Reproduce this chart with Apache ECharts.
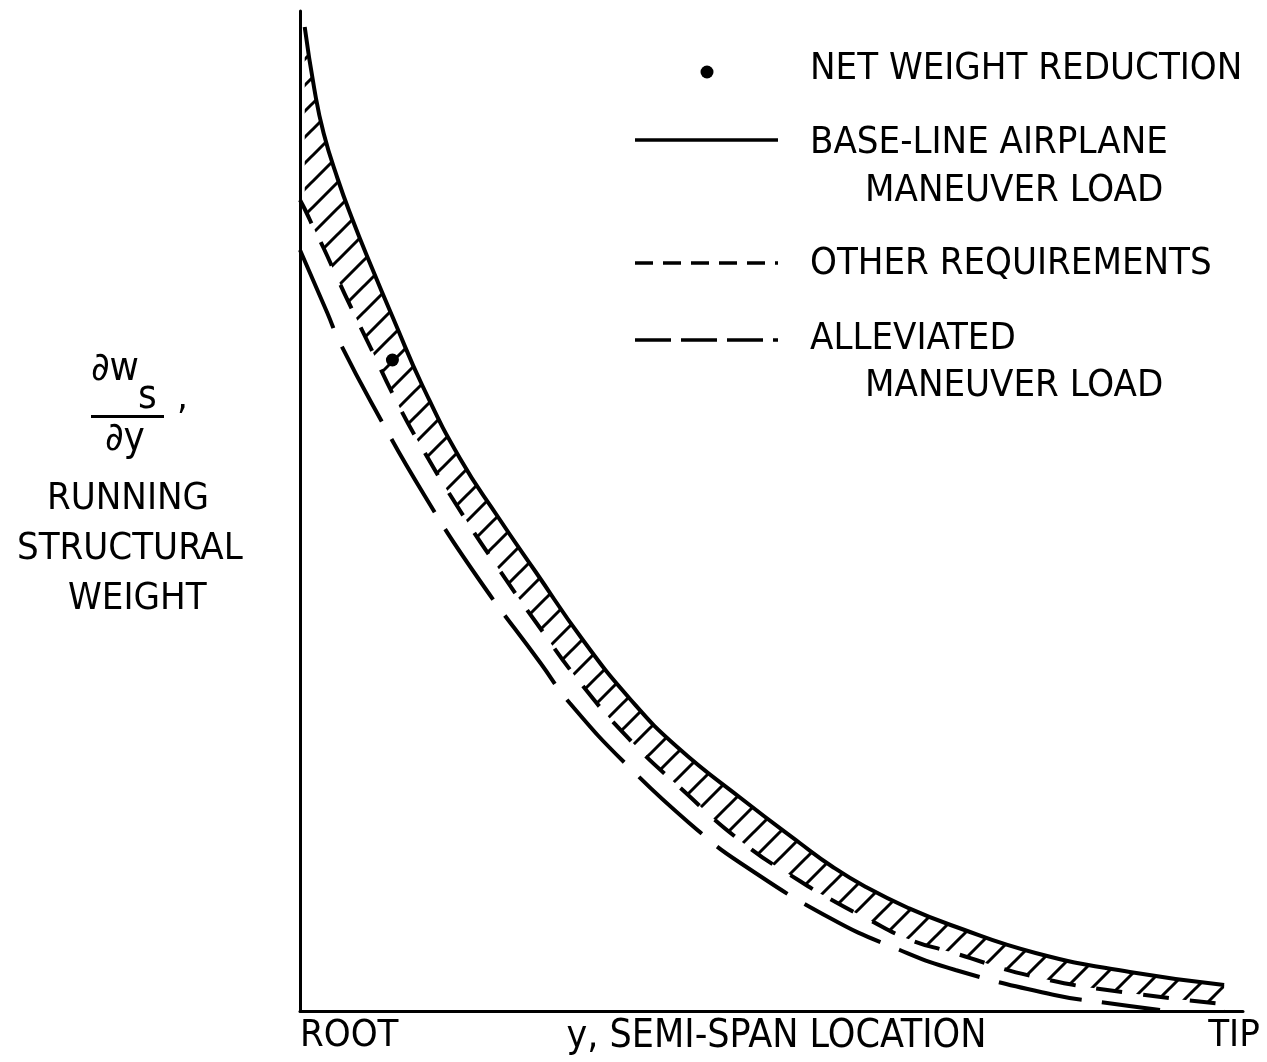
<!DOCTYPE html>
<html>
<head>
<meta charset="utf-8">
<script src="https://cdn.jsdelivr.net/npm/echarts@6/dist/echarts.min.js"></script>
<style>
  html, body { margin: 0; padding: 0; background: #fff; }
  #chart { width: 1267px; height: 1062px; }
</style>
</head>
<body>
<div id="chart"></div>
<script>
// y, semi-span location: 0 = root, 100 = tip
// base-line airplane maneuver load
const baseX = [0.5, 1.5, 2.5, 4, 5.5, 7.5, 10, 13, 17, 21, 25, 30, 35, 40, 47, 53, 56.5, 60, 64.5, 69, 78, 88, 98]
const baseLine = [98.4, 92.3, 87.8, 83.2, 79.3, 74.6, 69.0, 62.5, 55.2, 49.4, 43.9, 37.1, 31.2, 26.4, 21.1, 16.8, 14.4, 12.4, 10.3, 8.6, 5.8, 3.9, 2.6]
// other requirements
const otherX = [0, 0.5, 1.5, 2.5, 4, 5.5, 7.5, 10, 13, 17, 21, 25, 30, 35, 40, 47, 53, 56.5, 60, 64.5, 69, 78, 88, 98]
const otherReq = [81.1, 80.2, 78.2, 76.3, 73.2, 70.2, 66.3, 61.4, 56.2, 50.0, 44.3, 38.9, 32.5, 27.1, 22.6, 16.8, 13.0, 11.05, 9.3, 7.2, 5.9, 3.4, 1.8, 0.7]
// alleviated maneuver load
const alleviatedX = [0, 2.9, 4.2, 8, 13.3, 18.8, 25.5, 28.6, 35.2, 42.4, 46.7, 56.2, 63.6, 69.5, 80, 84.8, 91.2]
const alleviated = [76.1, 69.8, 66.9, 60.1, 51.4, 43.4, 34.8, 30.8, 24.1, 17.9, 14.8, 9.3, 6.1, 4.1, 1.6, 0.9, 0.1]
// net weight reduction marker
const netPoint = [9.8, 65.1]
// x-axis end labels
const xLabels = { 0: 'ROOT', 100: 'TIP' }

const font = "'DejaVu Sans Condensed', 'Liberation Sans Narrow', 'DejaVu Sans', sans-serif"
const smooth = 0.5

// hatch pattern for the net weight reduction band
const hatch = document.createElement('canvas')
hatch.width = 26
hatch.height = 26
const hctx = hatch.getContext('2d')
hctx.strokeStyle = '#000'
hctx.lineWidth = 3
hctx.beginPath()
hctx.moveTo(-3, 29)
hctx.lineTo(29, -3)
hctx.moveTo(-3, 3)
hctx.lineTo(3, -3)
hctx.moveTo(23, 29)
hctx.lineTo(29, 23)
hctx.stroke()

const pairs = (xs, ys) => xs.map((x, i) => [x, ys[i]])

const txt = (left, top, text, size) => ({
  type: 'text',
  left: left,
  top: top,
  style: { text: text, font: (size || 38) + 'px ' + font, fill: '#000' }
})
const legendLine = (y, dash) => ({
  type: 'line',
  shape: { x1: 635, y1: y, x2: 778, y2: y },
  style: { stroke: '#000', lineWidth: 3.5, lineDash: dash }
})

const option = {
  animation: false,
  backgroundColor: '#fff',
  grid: { left: 300, right: 24, top: 11, bottom: 51, outerBoundsMode: 'none', containLabel: false },
  xAxis: {
    type: 'value',
    min: 0,
    max: 100,
    interval: 100,
    z: 10,
    axisLine: { lineStyle: { color: '#000', width: 3 } },
    axisTick: { show: false },
    splitLine: { show: false },
    axisLabel: {
      formatter: (v) => xLabels[v] || '',
      margin: 6,
      color: '#000',
      fontSize: 38,
      fontFamily: font,
      alignMinLabel: 'left',
      alignMaxLabel: 'center',
      padding: [0, 18, 0, 0]
    },
    name: 'y, SEMI-SPAN LOCATION',
    nameLocation: 'middle',
    nameGap: 6,
    nameMoveOverlap: false,
    nameTextStyle: { color: '#000', fontSize: 39, fontFamily: font, verticalAlign: 'top', padding: [0, 0, 0, 10] }
  },
  yAxis: {
    type: 'value',
    min: 0,
    max: 100,
    z: 10,
    axisLine: { show: true, lineStyle: { color: '#000', width: 3 } },
    axisTick: { show: false },
    axisLabel: { show: false },
    splitLine: { show: false }
  },
  series: [
    {
      // hatched area under the base-line curve
      name: 'hatch',
      type: 'line',
      data: pairs(baseX, baseLine),
      smooth: smooth,
      symbol: 'none',
      silent: true,
      z: 1,
      lineStyle: { width: 0 },
      areaStyle: { color: { image: hatch, repeat: 'repeat' }, opacity: 1 }
    },
    {
      // blank out everything under the other-requirements curve
      name: 'OTHER REQUIREMENTS',
      type: 'line',
      data: pairs(otherX, otherReq),
      smooth: smooth,
      symbol: 'none',
      z: 2,
      lineStyle: { color: '#000', width: 4, type: [26, 21] },
      areaStyle: { color: '#fff', opacity: 1 }
    },
    {
      name: 'BASE-LINE AIRPLANE MANEUVER LOAD',
      type: 'line',
      data: pairs(baseX, baseLine),
      smooth: smooth,
      symbol: 'none',
      z: 3,
      lineStyle: { color: '#000', width: 4 }
    },
    {
      name: 'ALLEVIATED MANEUVER LOAD',
      type: 'line',
      data: pairs(alleviatedX, alleviated),
      smooth: smooth,
      symbol: 'none',
      z: 3,
      lineStyle: { color: '#000', width: 4, type: [85, 20] }
    },
    {
      name: 'NET WEIGHT REDUCTION',
      type: 'scatter',
      data: [netPoint],
      symbolSize: 13,
      z: 4,
      itemStyle: { color: '#000', opacity: 1 }
    }
  ],
  graphic: [
    // legend
    { type: 'circle', shape: { cx: 707, cy: 72, r: 6.5 }, style: { fill: '#000' } },
    txt(810, 50, 'NET WEIGHT REDUCTION'),
    legendLine(140, null),
    txt(810, 124, 'BASE-LINE AIRPLANE'),
    txt(865, 172, 'MANEUVER LOAD'),
    legendLine(263, [18, 10]),
    txt(810, 245, 'OTHER REQUIREMENTS'),
    legendLine(340, [36, 10]),
    txt(810, 320, 'ALLEVIATED'),
    txt(865, 367, 'MANEUVER LOAD'),
    // y-axis title
    txt(91, 350, '∂w', 40),
    txt(138, 378, 's', 40),
    txt(177, 380, ','),
    { type: 'rect', shape: { x: 91, y: 415, width: 73, height: 3 }, style: { fill: '#000' } },
    txt(105, 420, '∂y', 40),
    txt(47, 480, 'RUNNING'),
    txt(17, 530, 'STRUCTURAL'),
    txt(68, 580, 'WEIGHT')
  ]
}

const myChart = echarts.init(document.getElementById('chart'))
myChart.setOption(option)
</script>
</body>
</html>
